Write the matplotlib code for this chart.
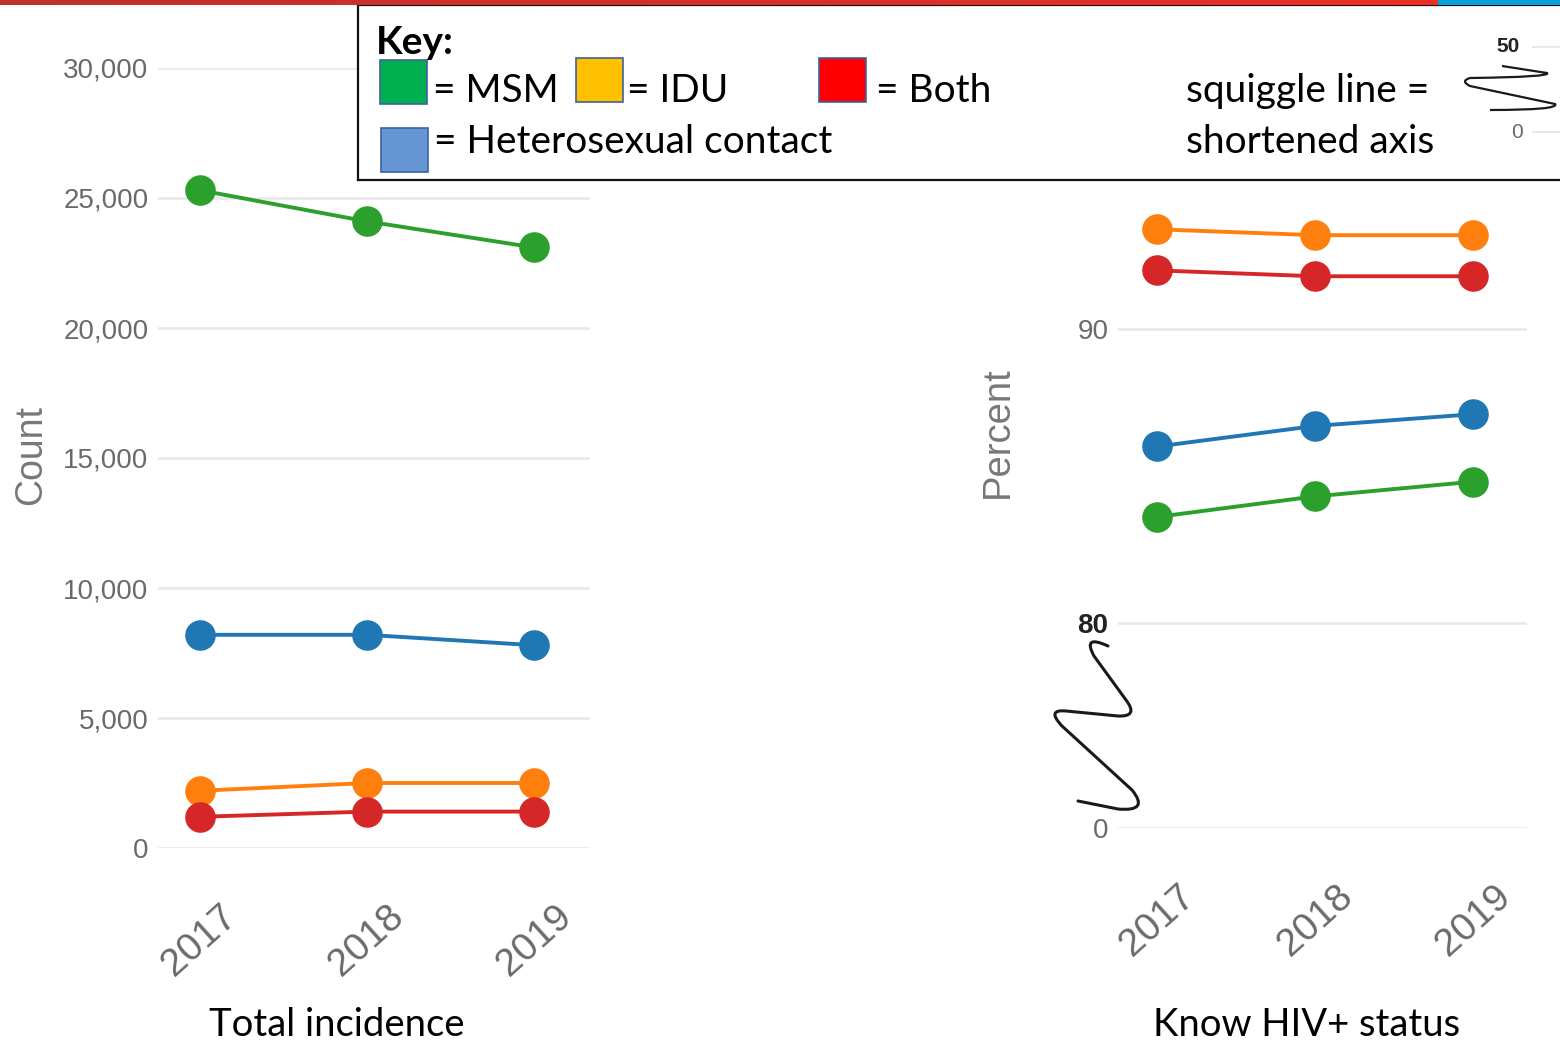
import numpy as np
import matplotlib
matplotlib.use("Agg")
import matplotlib.pyplot as plt
from matplotlib.path import Path
from matplotlib.patches import PathPatch, Rectangle

# HIV surveillance by transmission group, 2017-2019
years = ["2017", "2018", "2019"]

# new diagnoses (count)
inc_msm = [25300, 24100, 23100]
inc_het = [8200, 8200, 7800]
inc_idu = [2200, 2500, 2500]
inc_both = [1200, 1400, 1400]

# knowledge of HIV+ status (percent)
know_msm = [83.6, 84.3, 84.8]
know_het = [86.0, 86.7, 87.1]
know_idu = [93.4, 93.2, 93.2]
know_both = [92.0, 91.8, 91.8]

count_ticks = [0, 5000, 10000, 15000, 20000, 25000, 30000]
# the percent axis is broken below 80, so "0" sits just under it
pct_zero_pos = 73.0
pct_ticks = [pct_zero_pos, 80, 90]
pct_tick_labels = ["0", "80", "90"]

C_MSM, C_HET, C_IDU, C_BOTH = "#2ca02c", "#1f77b4", "#ff7f0e", "#d62728"
GRID = "#e8e8e8"
TICK_GREY = "#6a6a6a"

W, H = 1560, 1044


def px_box(left, top, right, bottom):
    return [left / W, 1 - bottom / H, (right - left) / W, (bottom - top) / H]


def fx(x):
    return x / W


def fy(y):
    return 1 - y / H


fig = plt.figure(figsize=(W / 100, H / 100), dpi=100)
fig.patch.set_facecolor("white")

line_kw = dict(lw=2.8, marker="o", ms=21, clip_on=False, solid_capstyle="round")
x = np.arange(len(years))


def style_axis(ax):
    ax.yaxis.grid(True, color=GRID, lw=1.8)
    ax.set_axisbelow(True)
    ax.set_xticks(x)
    ax.set_xticklabels(years, rotation=42, fontsize=28, color=TICK_GREY,
                       family="Liberation Sans", ha="center", va="top")
    ax.tick_params(axis="x", length=0, pad=36)
    ax.tick_params(axis="y", length=0, pad=7)
    for s in ax.spines.values():
        s.set_visible(False)


# ---- left chart: total incidence
ax1 = fig.add_axes(px_box(158, 68, 590, 848))
for vals, c in [(inc_het, C_HET), (inc_idu, C_IDU), (inc_both, C_BOTH), (inc_msm, C_MSM)]:
    ax1.plot(x, vals, color=c, **line_kw)
ax1.set_xlim(-0.25, 2.335)
ax1.set_ylim(0, 30000)
ax1.set_yticks(count_ticks)
ax1.set_yticklabels([f"{v:,}" for v in count_ticks], fontsize=20,
                    color=TICK_GREY, family="Liberation Sans")
style_axis(ax1)
fig.text(fx(31), fy(455), "Count", rotation=90, ha="center", va="center",
         fontsize=27, color="#777777", family="Liberation Sans")
fig.text(fx(337), fy(1025), "Total incidence", ha="center", va="center",
         fontsize=27.5, color="black", family="Lato")

# ---- right chart: know HIV+ status
ax2 = fig.add_axes(px_box(1118, 153, 1527, 828))
for vals, c in [(know_idu, C_IDU), (know_both, C_BOTH), (know_het, C_HET), (know_msm, C_MSM)]:
    ax2.plot(x, vals, color=c, **line_kw)
ax2.set_xlim(-0.247, 2.34)
ax2.set_ylim(pct_zero_pos, 96.0)
ax2.set_yticks(pct_ticks)
ax2.set_yticklabels(pct_tick_labels, fontsize=20, color=TICK_GREY,
                    family="Liberation Sans")
lab80 = ax2.get_yticklabels()[1]
lab80.set_fontweight("bold")
lab80.set_color("#222222")
style_axis(ax2)
fig.text(fx(998), fy(432), "Percent", rotation=90, ha="center", va="center",
         fontsize=27.5, color="#777777", family="Liberation Sans")
fig.text(fx(1307), fy(1025), "Know HIV+ status", ha="center", va="center",
         fontsize=27.5, color="black", family="Lato")

# squiggle marking the shortened percent axis
Q = Path.CURVE3
squiggle = [
    ((1108, 646), Path.MOVETO),
    ((1082, 634), Q), ((1094, 656), Q),
    ((1126, 700), Path.LINETO),
    ((1139, 717), Q), ((1118, 716), Q),
    ((1066, 711), Path.LINETO),
    ((1046, 709), Q), ((1062, 726), Q),
    ((1132, 790), Path.LINETO),
    ((1150, 812), Q), ((1118, 809), Q),
    ((1078, 801), Path.LINETO),
]
verts = [(fx(a), fy(b)) for (a, b), _ in squiggle]
codes = [c for _, c in squiggle]
fig.patches.append(PathPatch(Path(verts, codes), transform=fig.transFigure,
                             fill=False, lw=2.2, ec="#1a1a1a", capstyle="round"))

# ---- key box drawn over the top of both charts
key = fig.add_axes(px_box(358, 5, 1562, 180))
key.set_xlim(358, 1562)
key.set_ylim(180, 5)
key.set_xticks([])
key.set_yticks([])
key.set_facecolor("white")
for s in key.spines.values():
    s.set_linewidth(1.6)
    s.set_color("#111111")

key_font = dict(family="Lato", fontsize=28, color="black", va="center")
key.text(376, 42, "Key:", fontweight="bold", **key_font)
swatches = [
    (380, 60, "#00b050", 433, 91, "= MSM"),
    (576, 58, "#ffc000", 627, 91, "= IDU"),
    (819, 58, "#ff0000", 876, 91, "= Both"),
    (381, 128, "#6495d5", 434, 142, "= Heterosexual contact"),
]
for sx, sy, col, tx, ty, label in swatches:
    key.add_patch(Rectangle((sx, sy), 47, 44, fc=col, ec="#41619c", lw=1.2))
    key.text(tx, ty, label, **key_font)
key.text(1186, 91, "squiggle line =", **key_font)
key.text(1186, 142, "shortened axis", **key_font)

# little example of the axis break
key.text(1508, 46, "50", ha="center", va="center", fontsize=15,
         fontweight="bold", color="#222222", family="Liberation Sans")
key.text(1517, 132, "0", ha="center", va="center", fontsize=15,
         color=TICK_GREY, family="Liberation Sans")
key.plot([1533, 1562], [47, 47], color=GRID, lw=1.5)
key.plot([1533, 1562], [132, 132], color=GRID, lw=1.5)
mini = Path([(1502, 66), (1547, 73), (1552, 77), (1470, 78), (1460, 81),
             (1470, 86), (1555, 104), (1560, 110), (1490, 110)],
            [Path.MOVETO, Path.LINETO, Q, Q, Q, Q, Path.LINETO, Q, Q])
key.add_patch(PathPatch(mini, fill=False, lw=1.6, ec="#1a1a1a"))

# ---- coloured band along the top edge
band = fig.add_axes(px_box(0, 0, W, 5))
band.set_xlim(0, W)
band.set_ylim(0, 1)
band.axis("off")
grad = np.linspace(0, 1, 256)[None, :, None]
red_a = np.array([0.75, 0.19, 0.17])
red_b = np.array([0.93, 0.18, 0.15])
band.imshow(red_a + (red_b - red_a) * grad, extent=[0, 1440, 0, 1], aspect="auto")
band.add_patch(Rectangle((1438, 0), W - 1438, 1, fc="#0aa0dd", ec="none"))

fig.savefig("out.png", dpi=100, facecolor="white")
